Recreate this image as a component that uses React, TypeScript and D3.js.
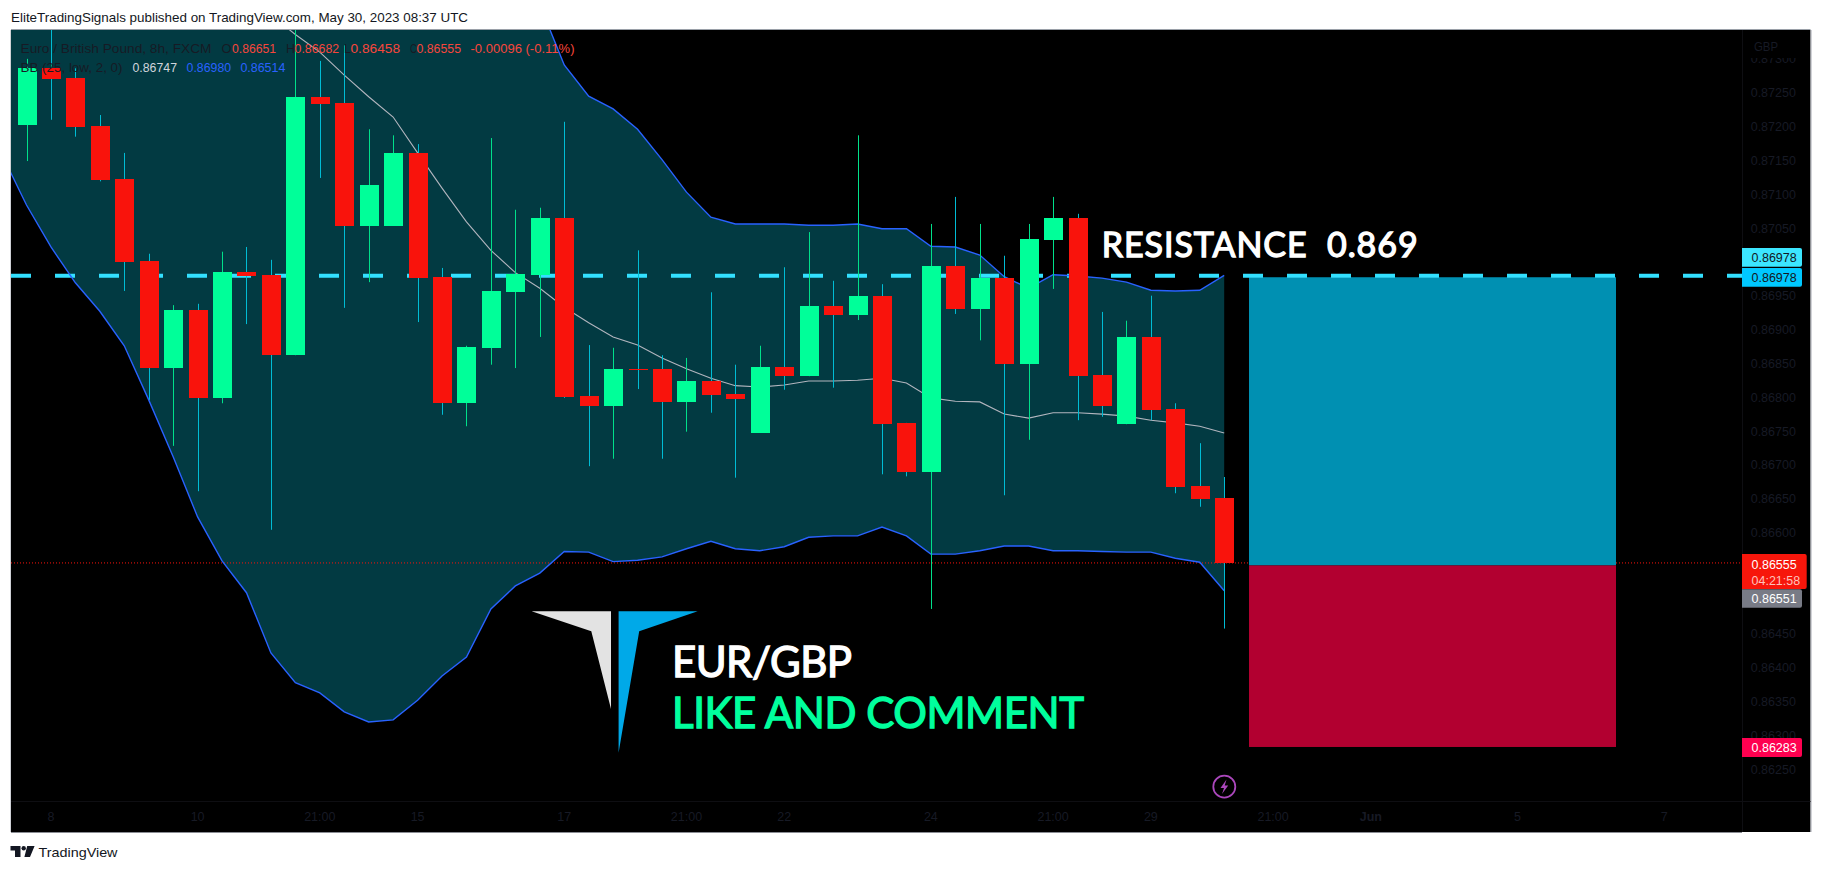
import React from "react";
import * as d3 from "d3";

const opens = [0.87202,0.87286,0.87272,0.87201,0.87122,0.87001,0.86843,0.86929,0.86799,0.86985,0.86981,0.86862,0.87244,0.87235,0.87053,0.87053,0.87161,0.86978,0.86791,0.86873,0.86955,0.86981,0.87065,0.86802,0.86787,0.86842,0.86842,0.86793,0.86824,0.86805,0.86747,0.86845,0.86831,0.86935,0.86921,0.86950,0.86762,0.86689,0.86994,0.86930,0.86976,0.86849,0.87032,0.87065,0.86833,0.86760,0.86889,0.86782,0.86669,0.86651];
const highs = [0.87300,0.87357,0.87286,0.87217,0.87161,0.87012,0.86936,0.86938,0.87015,0.87022,0.87003,0.87372,0.87297,0.87320,0.87196,0.87187,0.87174,0.86991,0.86876,0.87183,0.87077,0.87080,0.87207,0.86877,0.86873,0.87017,0.86862,0.86858,0.86955,0.86848,0.86876,0.86992,0.87044,0.86972,0.87187,0.86967,0.86762,0.87056,0.87096,0.87056,0.87009,0.87056,0.87096,0.87071,0.86926,0.86913,0.86950,0.86791,0.86732,0.86682];
const lows = [0.87149,0.87210,0.87185,0.87119,0.86957,0.86796,0.86728,0.86661,0.86791,0.86908,0.86604,0.86862,0.87124,0.86932,0.86970,0.87053,0.86911,0.86774,0.86757,0.86848,0.86843,0.86889,0.86799,0.86698,0.86709,0.86812,0.86709,0.86749,0.86777,0.86681,0.86747,0.86811,0.86831,0.86814,0.86914,0.86686,0.86683,0.86487,0.86923,0.86884,0.86655,0.86737,0.86960,0.86766,0.86771,0.86760,0.86766,0.86658,0.86638,0.86458];
const closes = [0.87286,0.87270,0.87199,0.87121,0.87000,0.86843,0.86929,0.86799,0.86985,0.86979,0.86862,0.87244,0.87233,0.87053,0.87114,0.87161,0.86976,0.86791,0.86874,0.86957,0.86982,0.87065,0.86800,0.86787,0.86842,0.86840,0.86793,0.86824,0.86803,0.86797,0.86845,0.86831,0.86935,0.86921,0.86950,0.86760,0.86689,0.86994,0.86930,0.86976,0.86849,0.87034,0.87065,0.86831,0.86787,0.86889,0.86781,0.86667,0.86649,0.86555];

// Bollinger bands run from bar -1 (just off the left edge) to bar 49.
const bandStart = -1;
const upperBand = [0.87720,0.87808,0.87870,0.87918,0.87950,0.87993,0.88061,0.88127,0.88198,0.88240,0.88258,0.88308,0.88294,0.88258,0.88218,0.88167,0.88105,0.87969,0.87830,0.87702,0.87548,0.87446,0.87380,0.87291,0.87245,0.87226,0.87196,0.87151,0.87103,0.87066,0.87056,0.87056,0.87056,0.87054,0.87054,0.87056,0.87049,0.87049,0.87023,0.87022,0.87010,0.86978,0.86961,0.86981,0.86979,0.86976,0.86970,0.86958,0.86957,0.86958,0.86980];
const middleBand = [0.87439,0.87446,0.87446,0.87443,0.87439,0.87434,0.87428,0.87420,0.87411,0.87399,0.87384,0.87365,0.87336,0.87310,0.87276,0.87244,0.87214,0.87161,0.87109,0.87059,0.87017,0.86984,0.86961,0.86933,0.86910,0.86889,0.86877,0.86858,0.86842,0.86828,0.86817,0.86815,0.86818,0.86824,0.86824,0.86825,0.86828,0.86821,0.86799,0.86794,0.86793,0.86775,0.86769,0.86777,0.86777,0.86775,0.86772,0.86766,0.86762,0.86757,0.86747];
const lowerBand = [0.87158,0.87084,0.87022,0.86969,0.86927,0.86876,0.86796,0.86712,0.86623,0.86558,0.86511,0.86422,0.86378,0.86363,0.86335,0.86320,0.86323,0.86352,0.86388,0.86416,0.86487,0.86521,0.86540,0.86572,0.86571,0.86557,0.86559,0.86564,0.86576,0.86587,0.86576,0.86573,0.86579,0.86593,0.86595,0.86595,0.86608,0.86595,0.86568,0.86568,0.86573,0.86580,0.86580,0.86573,0.86573,0.86572,0.86571,0.86571,0.86562,0.86556,0.86514];

const priceTicks = [0.873,0.8725,0.872,0.8715,0.871,0.8705,0.8695,0.869,0.8685,0.868,0.8675,0.867,0.8665,0.866,0.8645,0.864,0.8635,0.863,0.8625];
const timeTicks: [number, string, boolean][] = [[1,"8",false],[7,"10",false],[12,"21:00",false],[16,"15",false],[22,"17",false],[27,"21:00",false],[31,"22",false],[37,"24",false],[42,"21:00",false],[46,"29",false],[51,"21:00",false],[55,"Jun",true],[61,"5",false],[67,"7",false]];

const resistance = 0.86978;
const lastPrice = 0.86555;
const stopLevel = 0.86283;
const bidPrice = 0.86551;

const W = 1822, H = 872;
const left = 11, top = 30, right = 1742, outerRight = 1810.5, axisY = 801, bottom = 832;
const x = d3.scaleLinear().domain([0, 49]).range([26.5, 1224.2]);
const y = d3.scaleLinear().domain([0.8725, 0.8625]).range([92.7, 769.3]);

const GREEN = "#00ff99", RED = "#f9130c", WICK_G = "#00e08a", WICK_R = "#00bcd4";
const DARK = "#171a25", BLUE = "#2962ff", FILL = "#023a42", SANS = "'Liberation Sans', sans-serif";
const LOGO = "Lato, 'Open Sans', sans-serif";

const bandX = (i: number) => x(i + bandStart);
const area = d3.area<number>().x((_, i) => bandX(i)).y0((d) => y(d)).y1((_, i) => y(lowerBand[i]));
const line = d3.line<number>().x((_, i) => bandX(i)).y((d) => y(d));

function Tag({ yTop, h, fill, label, color, w = 60 }: { yTop: number; h: number; fill: string; label: string; color: string; w?: number }) {
  return (
    <g>
      <path d={`M${right} ${yTop}H${right + w - 2}q2 0 2 2V${yTop + h - 2}q0 2 -2 2H${right}Z`} fill={fill} />
      <text x={right + 9.5} y={yTop + h / 2 + 4.5} fontSize={12.5} fontFamily={SANS} fill={color}>{label}</text>
    </g>
  );
}

function Txt({ x: tx, yy, w, fill, size = 12.5, children }: { x: number; yy: number; w: number; fill: string; size?: number; children: string }) {
  return <text x={tx} y={yy} fontSize={size} fontFamily={SANS} fill={fill} textLength={w} lengthAdjust="spacingAndGlyphs" xmlSpace="preserve">{children}</text>;
}

export default function App() {
  const yRes = y(resistance), yLast = y(lastPrice), yStop = y(stopLevel);
  return (
    <svg width={W} height={H} viewBox={`0 0 ${W} ${H}`} style={{ position: "fixed", left: 0, top: 0, background: "#fff" }}>
      <defs>
        <clipPath id="plot"><rect x={left} y={top} width={right - left} height={axisY - top} /></clipPath>
        <clipPath id="priceClip"><rect x={right} y={58} width={outerRight - right} height={axisY - 58} /></clipPath>
      </defs>
      <text x={11} y={22} fontSize={13} fontFamily={SANS} fill="#131722" textLength={457} lengthAdjust="spacingAndGlyphs">EliteTradingSignals published on TradingView.com, May 30, 2023 08:37 UTC</text>

      <rect x={left} y={top} width={outerRight - left} height={bottom - top} fill="#000" />
      <path d={`M${left - 0.5} ${top}V${bottom}`} stroke="#cfd1d6" strokeWidth={1} />
      <path d={`M${left} ${top - 0.5}H${outerRight}`} stroke="#9aa0a8" strokeWidth={1} />
      <path d={`M${outerRight + 0.5} ${top}V${bottom}`} stroke="#a3a6af" strokeWidth={1} />
      <path d={`M${left} ${bottom + 0.5}H${right}`} stroke="#8a8d94" strokeWidth={1} />
      <path d={`M${right + 0.5} ${top}V${bottom}`} stroke="#0e0e12" strokeWidth={1} />
      <path d={`M${left} ${axisY + 0.5}H${outerRight}`} stroke="#0e0e12" strokeWidth={1} />

      <g clipPath="url(#plot)">
        <path d={area(upperBand) ?? ""} fill={FILL} />
        <line x1={left} x2={right} y1={yLast} y2={yLast} stroke={RED} strokeWidth={1} strokeDasharray="1 2" />
        <rect x={1249} y={yRes + 0.5} width={367} height={yLast + 2.5 - yRes - 0.5} fill="#0090b2" />
        <rect x={1249} y={yLast + 2.5} width={367} height={yStop - yLast - 2.5} fill="#b20030" />
        <line x1={left} x2={right} y1={yRes - 0.9} y2={yRes - 0.9} stroke="#33e0ff" strokeWidth={4} strokeDasharray="20 24" />
        <path d={line(middleBand) ?? ""} fill="none" stroke="#b2b5be" strokeWidth={1.1} />
        <path d={line(upperBand) ?? ""} fill="none" stroke={BLUE} strokeWidth={1.4} />
        <path d={line(lowerBand) ?? ""} fill="none" stroke={BLUE} strokeWidth={1.4} />
        {opens.map((o, i) => {
          const up = closes[i] >= o;
          const cx = Math.round(x(i));
          return <line key={i} x1={cx + 0.5} x2={cx + 0.5} y1={y(highs[i])} y2={y(lows[i])} stroke={up ? WICK_G : WICK_R} strokeWidth={1} />;
        })}
        {opens.map((o, i) => {
          const up = closes[i] >= o;
          const cx = Math.round(x(i));
          const t = y(Math.max(o, closes[i])), b = y(Math.min(o, closes[i]));
          return <rect key={i} x={cx - 9} y={t} width={19} height={Math.max(b - t, 1)} fill={up ? GREEN : RED} shapeRendering="crispEdges" />;
        })}
      </g>

      {/* legend */}
      <Txt x={20.5} yy={53} w={191} fill={DARK}>Euro / British Pound, 8h, FXCM</Txt>
      <Txt x={221.4} yy={53} w={10} fill={DARK}>O</Txt>
      <Txt x={232} yy={53} w={44} fill="#f7463c">0.86651</Txt>
      <Txt x={286} yy={53} w={9} fill={DARK}>H</Txt>
      <Txt x={294.6} yy={53} w={44.5} fill="#f7463c">0.86682</Txt>
      <Txt x={344} yy={53} w={7} fill={DARK}>L</Txt>
      <Txt x={350.5} yy={53} w={49.5} fill="#f7463c">0.86458</Txt>
      <Txt x={410} yy={53} w={7} fill={DARK}>C</Txt>
      <Txt x={416.5} yy={53} w={44.5} fill="#f7463c">0.86555</Txt>
      <Txt x={470.5} yy={53} w={104} fill="#f7463c">-0.00096 (-0.11%)</Txt>
      <Txt x={20.5} yy={71.5} w={102} fill={DARK}>BB (25, low, 2, 0)</Txt>
      <Txt x={132.5} yy={71.5} w={44.5} fill="#d1d4dc">0.86747</Txt>
      <Txt x={186.6} yy={71.5} w={44.5} fill={BLUE}>0.86980</Txt>
      <Txt x={240.4} yy={71.5} w={45} fill={BLUE}>0.86514</Txt>

      {/* price axis */}
      <g clipPath="url(#priceClip)">
        {priceTicks.map((p) => (
          <text key={p} x={1750.7} y={y(p) + 4.5} fontSize={12.5} fontFamily={SANS} fill={DARK}>{p.toFixed(5)}</text>
        ))}
      </g>
      <text x={1754} y={50.5} fontSize={12.5} fontFamily={SANS} fill={DARK} textLength={24} lengthAdjust="spacingAndGlyphs">GBP</text>

      <Tag yTop={248} h={18.7} fill="#3ce6ff" label={resistance.toFixed(5)} color="#131722" />
      <Tag yTop={268} h={18.7} fill="#00c8ff" label={resistance.toFixed(5)} color="#131722" />
      <path d={`M${right} 554H1804.7q2 0 2 2V587q0 2 -2 2H${right}Z`} fill="#f7160b" />
      <text x={right + 9.5} y={568.5} fontSize={12.5} fontFamily={SANS} fill="#fff">{lastPrice.toFixed(5)}</text>
      <text x={right + 9.5} y={584.5} fontSize={12.5} fontFamily={SANS} fill="#ffc2bc">04:21:58</text>
      <Tag yTop={589.3} h={18.4} fill="#787b86" label={bidPrice.toFixed(5)} color="#fff" />
      <Tag yTop={738} h={19} fill="#ff0050" label={stopLevel.toFixed(5)} color="#fff" />

      {/* time axis */}
      {timeTicks.map(([i, label, bold], k) => (
        <text key={k} x={x(i)} y={821} textAnchor="middle" fontSize={12.5} fontWeight={bold ? 700 : 400} fontFamily={SANS} fill={DARK}>{label}</text>
      ))}

      {/* annotations */}
      <text x={1101.7} y={257} fontSize={34} fontWeight={400} fontFamily={LOGO} fill="#fff" stroke="#fff" strokeWidth={1.3} textLength={316} lengthAdjust="spacing" xmlSpace="preserve">RESISTANCE  0.869</text>
      <path d="M531.6 611.3H611V709L591.3 631.3Z" fill="#e3e3e3" />
      <path d="M618.6 611.3H697.7L639.2 631.3L618.6 752.7Z" fill="#00a9e8" />
      <text x={672} y={676.7} fontSize={42} fontWeight={400} fontFamily={LOGO} fill="#fff" stroke="#fff" strokeWidth={1.3} textLength={180} lengthAdjust="spacing">EUR/GBP</text>
      <text x={672} y={727.7} fontSize={42} fontWeight={400} fontFamily={LOGO} fill="#00ff9d" stroke="#00ff9d" strokeWidth={1.3} textLength={412} lengthAdjust="spacing">LIKE AND COMMENT</text>

      {/* replay bolt */}
      <circle cx={1224.3} cy={786.7} r={11} fill="none" stroke="#ab47bc" strokeWidth={1.8} />
      <path d="M1226.5 779.5L1220.5 788H1224L1222 794L1228.2 785.5H1224.7Z" fill="#ab47bc" />

      {/* footer */}
      <path d="M10.5 846H20.5V857H15V850.5H10.5Z M27.2 846H34.6L30 857H24.4Z" fill="#131722" />
      <circle cx={23.7} cy={848.2} r={2.2} fill="#131722" />
      <text x={38.5} y={856.5} fontSize={13} fontFamily={SANS} fill="#131722" textLength={79} lengthAdjust="spacingAndGlyphs">TradingView</text>
    </svg>
  );
}
